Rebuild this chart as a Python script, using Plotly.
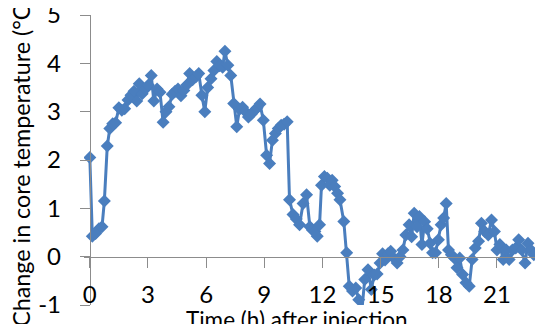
import plotly.graph_objects as go

# Time after injection (h) and change in core temperature (°C)
time_h = [
    0.00, 0.13, 0.30, 0.47, 0.63, 0.75, 0.90, 1.03, 1.18, 1.33,
    1.50, 1.65, 1.80, 1.97, 2.12, 2.28, 2.42, 2.55, 2.70, 2.87,
    3.02, 3.17, 3.30, 3.47, 3.62, 3.78, 3.93, 4.08, 4.25, 4.40,
    4.55, 4.70, 4.85, 5.00, 5.15, 5.30, 5.47, 5.62, 5.78, 5.93,
    6.08, 6.25, 6.40, 6.55, 6.70, 6.85, 6.97, 7.12, 7.27, 7.42,
    7.58, 7.72, 7.88, 8.03, 8.18, 8.33, 8.48, 8.63, 8.78, 8.95,
    9.12, 9.27, 9.42, 9.57, 9.72, 9.87, 10.02, 10.18, 10.30, 10.48,
    10.65, 10.82, 11.00, 11.18, 11.35, 11.48, 11.61, 11.73, 11.85, 11.95,
    12.10, 12.25, 12.38, 12.50, 12.63, 12.78, 12.90, 13.10, 13.25, 13.38,
    13.55, 13.72, 13.87, 14.00, 14.18, 14.35, 14.52, 14.67, 14.82, 14.97,
    15.10, 15.23, 15.38, 15.52, 15.68, 15.85, 16.00, 16.15, 16.30, 16.47,
    16.60, 16.73, 16.88, 17.00, 17.13, 17.27, 17.40, 17.55, 17.68, 17.83,
    17.98, 18.12, 18.25, 18.38, 18.50, 18.65, 18.80, 18.94, 19.08, 19.23,
    19.40, 19.57, 19.72, 19.88, 20.05, 20.20, 20.37, 20.55, 20.72, 20.87,
    21.00, 21.15, 21.32, 21.48, 21.63, 21.80, 21.97, 22.12, 22.28, 22.45,
    22.60, 22.75, 22.90, 23.05, 23.22, 23.40,
]
core_temp_change = [
    2.05, 0.42, 0.48, 0.58, 0.62, 1.15, 2.29, 2.65, 2.75, 2.77,
    3.08, 3.03, 3.06, 3.24, 3.34, 3.42, 3.22, 3.58, 3.37, 3.47,
    3.55, 3.75, 3.22, 3.47, 3.40, 2.78, 3.00, 3.10, 3.36, 3.42,
    3.47, 3.33, 3.44, 3.55, 3.79, 3.66, 3.72, 3.79, 3.34, 3.00,
    3.50, 3.68, 3.85, 4.04, 3.95, 3.92, 4.25, 3.96, 3.75, 3.17,
    2.69, 3.05, 3.09, 3.00, 2.89, 2.95, 3.02, 3.08, 3.16, 2.82,
    2.10, 1.93, 2.41, 2.55, 2.65, 2.72, 2.74, 2.79, 1.18, 0.87,
    0.78, 0.66, 1.10, 1.28, 0.62, 0.55, 0.52, 0.42, 0.66, 1.48,
    1.66, 1.62, 1.48, 1.58, 1.45, 1.31, 1.18, 0.73, 0.08, -0.61,
    -0.71, -0.65, -0.89, -1.25, -0.47, -0.27, -0.68, -0.38, -0.36, -0.13,
    0.06, -0.07, 0.06, 0.11, -0.03, -0.13, 0.00, 0.14, 0.45, 0.66,
    0.41, 0.90, 0.62, 0.83, 0.25, 0.72, 0.58, 0.28, 0.08, 0.08,
    0.35, 0.66, 0.80, 1.10, 0.14, 0.04, -0.03, -0.23, -0.03, -0.37,
    -0.54, -0.61, -0.06, 0.18, 0.32, 0.69, 0.52, 0.45, 0.76, 0.52,
    0.14, 0.25, -0.06, 0.14, -0.06, 0.14, 0.18, 0.35, 0.14, -0.13,
    0.28, 0.14, 0.04, 0.04, 0.04, 0.04,
]

x_ticks = [0, 3, 6, 9, 12, 15, 18, 21]
y_ticks = [-1, 0, 1, 2, 3, 4, 5]

x_title = "Time (h) after injection"
y_title = "Change in core temperature (\u00b0C)"
fig_title = "图 2"

# page has an 8px body margin: figure pixel = page pixel - 8
OFF = 8
W, H = 543 - OFF, 324 - OFF
px_per_h = 19.38
AX_X = 90 - OFF          # page x of t=0 -> figure x
PLOT_TOP = 15 - OFF      # page y of 5
PLOT_BOT = 305 - OFF     # page y of -1
x0 = -0.3
ML = AX_X + x0 * px_per_h
MR = 0
MT = PLOT_TOP
MB = H - PLOT_BOT
pw = W - ML - MR
ph = H - MT - MB
x1 = x0 + pw / px_per_h
y0, y1 = -1, 5

FONT = "Lato, 'Open Sans', sans-serif"
BLUE = "#4a7ebe"
AXIS = "#8c8c8c"


def px_x(page_x):
    return (page_x - OFF - ML) / pw


def px_y(page_y):
    return (PLOT_BOT - (page_y - OFF)) / ph


fig = go.Figure()
fig.add_trace(go.Scatter(
    x=time_h, y=core_temp_change,
    mode="lines+markers",
    line=dict(color=BLUE, width=3),
    marker=dict(symbol="diamond", size=10, color=BLUE),
    showlegend=False,
))

ypos_zero = (0 - y0) / (y1 - y0)
xpos_zero = (0 - x0) / (x1 - x0)

fig.update_layout(
    width=W, height=H,
    margin=dict(l=ML, r=MR, t=MT, b=MB, autoexpand=False),
    paper_bgcolor="white", plot_bgcolor="white",
    font=dict(family=FONT, color="#000000"),
    xaxis=dict(
        range=[x0, x1], anchor="free", position=ypos_zero,
        tickvals=x_ticks, ticktext=[str(v) for v in x_ticks],
        showgrid=False, zeroline=False,
        showline=True, linecolor=AXIS, linewidth=1,
        ticks="outside", ticklen=10, tickcolor=AXIS,
        ticklabelstandoff=7, ticklabeloverflow="allow",
        tickfont=dict(size=24, family=FONT, color="#000"),
    ),
    yaxis=dict(
        range=[y0, y1], anchor="free", position=xpos_zero,
        tickvals=y_ticks, ticktext=[str(v) for v in y_ticks],
        showgrid=False, zeroline=False,
        showline=True, linecolor=AXIS, linewidth=1,
        ticks="outside", ticklen=10, tickcolor=AXIS,
        ticklabelstandoff=14, ticklabeloverflow="allow",
        tickfont=dict(size=24, family=FONT, color="#000"),
    ),
)

fig.add_annotation(
    text=x_title, xref="paper", yref="paper",
    x=px_x(297.5), y=px_y(304),
    xanchor="center", yanchor="top", showarrow=False,
    font=dict(size=22.5, family=FONT, color="#000"),
)
fig.add_annotation(
    text=y_title, xref="paper", yref="paper",
    x=px_x(5), y=px_y(329),
    xanchor="left", yanchor="bottom", textangle=-90, showarrow=False,
    font=dict(size=23.3, family=FONT, color="#000"),
)
fig.add_annotation(
    text=fig_title, xref="paper", yref="paper",
    x=px_x(235), y=px_y(12),
    xanchor="center", yanchor="bottom", showarrow=False,
    font=dict(size=24, family="'Noto Sans CJK SC', sans-serif", color="#000"),
)

fig.write_html("out.html")
